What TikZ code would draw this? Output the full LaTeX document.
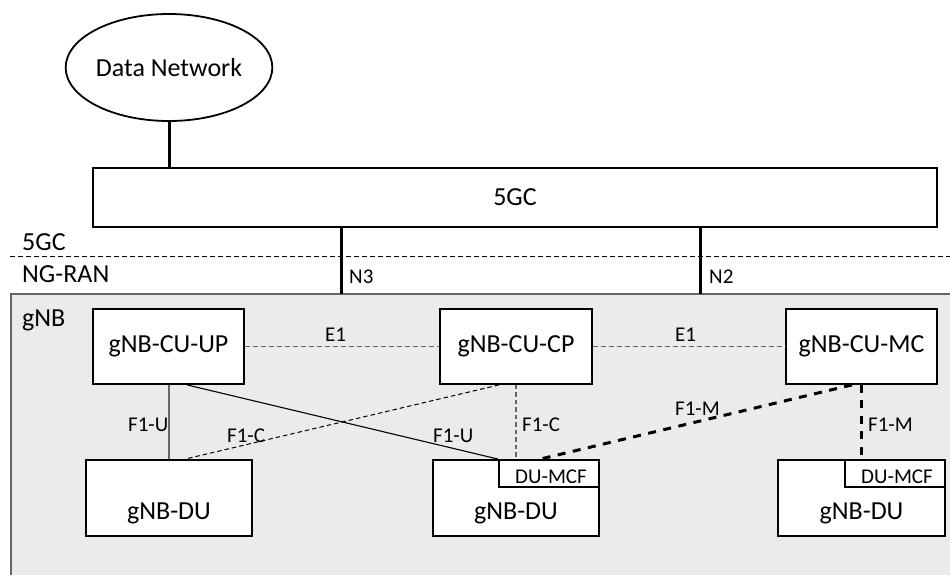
\documentclass[tikz,border=0pt]{standalone}
\usepackage{fontspec}
\setmainfont{Carlito}
\usetikzlibrary{shapes.geometric}
\definecolor{gnbfill}{HTML}{EBEBEB}
\definecolor{linegray}{HTML}{666666}
\begin{document}
\begin{tikzpicture}[x=1pt,y=-1pt,
  big/.style={font=\fontsize{26}{28}\selectfont},
  small/.style={font=\fontsize{21}{24}\selectfont},
  box/.style={draw, line width=1.8pt, fill=white, inner sep=0pt, big},
  lbl/.style={inner sep=0pt, anchor=base west, small},
  biglbl/.style={inner sep=0pt, anchor=base west, big},
  thickline/.style={line width=3pt},
  e1line/.style={draw=linegray, line width=1.1pt, dash pattern=on 5pt off 3pt},
  sepline/.style={line width=1.2pt, dash pattern=on 5pt off 3pt},
  f1mline/.style={line width=3pt, dash pattern=on 8pt off 7.5pt},
  f1cthin/.style={line width=1pt, dash pattern=on 4.5pt off 3pt},
  f1cvert/.style={draw=linegray, line width=1.1pt, dash pattern=on 4.5pt off 3pt},
  f1uline/.style={line width=1.1pt},
  f1uvert/.style={draw=linegray, line width=1.4pt}]
\useasboundingbox (0,0) rectangle (950,574);
% gNB area
\fill[gnbfill] (11,294) rectangle (962,590);
\draw[draw=linegray, line width=1.3pt] (962,294) -- (11,294) -- (11,590);
% separator
\draw[sepline] (10,256.5) -- (950,256.5);
\node[biglbl] (lbl5gc) at (22,250) {5GC};
\node[biglbl] (lblngran) at (22,282) {NG-RAN};
\node[biglbl] (lblgnb) at (22,326) {gNB};
% core
\node[ellipse, draw, line width=1.8pt, inner sep=0pt, minimum width=196, minimum height=107, big] (dn) at (169,67.5) {Data Network};
\node[box, minimum width=844, minimum height=59] (core) at (515,197.5) {5GC};
\draw[thickline] (dn.south) -- (dn.south |- core.north);
% CUs
\node[box, minimum width=151, minimum height=75] (up) at (168.5,346.5) {gNB-CU-UP};
\node[box, minimum width=152, minimum height=75] (cp) at (516,346.5) {gNB-CU-CP};
\node[box, minimum width=151, minimum height=75] (mc) at (861.5,346.5) {gNB-CU-MC};
% N3 / N2
\coordinate (n3) at (341,294);
\coordinate (n2) at (700,294);
\draw[thickline] (n3 |- core.south) -- (n3);
\draw[thickline] (n2 |- core.south) -- (n2);
\node[lbl] (n3l) at (349,283) {N3};
\node[lbl] (n2l) at (709,283) {N2};
% DUs
\node[box, minimum width=166, minimum height=76] (du1) at (169,498) {};
\node[box, minimum width=166, minimum height=76] (du2) at (516,498) {};
\node[box, minimum width=167, minimum height=76] (du3) at (861.5,498) {};
\node[box, small, minimum width=100, minimum height=27, anchor=north east] (mcf2) at (du2.north east) {};
\node[box, small, minimum width=100, minimum height=27, anchor=north east] (mcf3) at (du3.north east) {};
\node[inner sep=0pt, anchor=base, small] (mcf2t) at (551,483) {DU-MCF};
\node[inner sep=0pt, anchor=base, small] (mcf3t) at (897,483) {DU-MCF};
\node[inner sep=0pt, anchor=base, big] (du1t) at (169,519) {gNB-DU};
\node[inner sep=0pt, anchor=base, big] (du2t) at (516,519) {gNB-DU};
\node[inner sep=0pt, anchor=base, big] (du3t) at (861.5,519) {gNB-DU};
% E1
\draw[e1line] (up.east) -- (cp.west);
\draw[e1line] (cp.east) -- (mc.west);
\node[lbl] (e1a) at (325,341) {E1};
\node[lbl] (e1b) at (675,341) {E1};
% F1
\draw[f1uvert] (up.south -| du1.north) -- (du1.north);
\draw[f1uline] ([xshift=18.5pt]up.south) -- (mcf2.north west);
\draw[f1cthin] ([xshift=-17pt]cp.south) -- ([xshift=16pt]du1.north);
\draw[f1cvert] (cp.south) -- (du2.north);
\draw[f1mline] ([xshift=-9.5pt]mc.south) -- ([xshift=24pt]du2.north);
\draw[f1mline] (mc.south) -- (du3.north);
\node[lbl] (f1u1) at (128,431) {F1-U};
\node[lbl] (f1c1) at (227,442) {F1-C};
\node[lbl] (f1u2) at (433,442) {F1-U};
\node[lbl] (f1c2) at (522,431) {F1-C};
\node[lbl] (f1m1) at (675,415) {F1-M};
\node[lbl] (f1m2) at (868,431) {F1-M};
\end{tikzpicture}
\end{document}
